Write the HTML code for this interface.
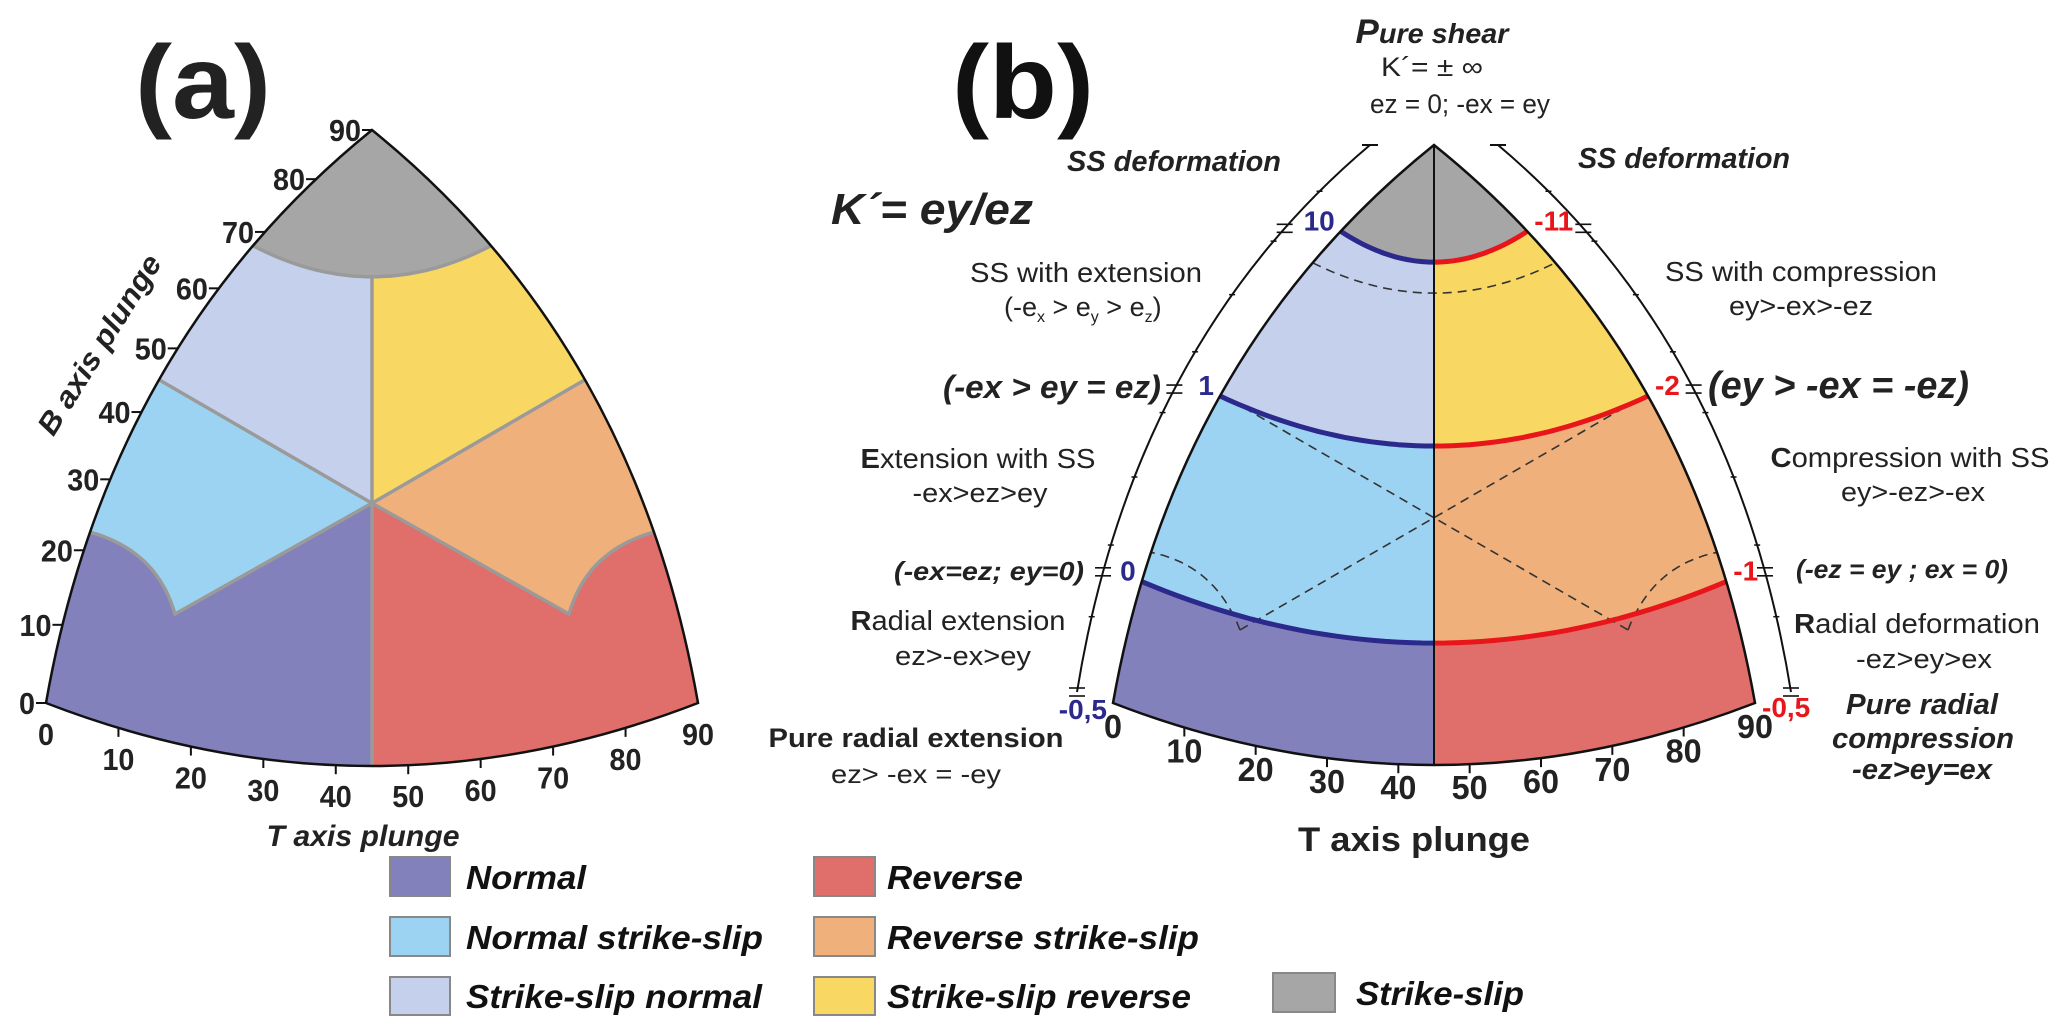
<!DOCTYPE html>
<html><head><meta charset="utf-8"><style>
html,body{margin:0;padding:0;background:#fff;}
svg{display:block;font-family:"Liberation Sans",sans-serif;}
.bi{font-weight:bold;font-style:italic;}
.b{font-weight:bold;}
</style></head><body>
<svg id="fig" width="2067" height="1034" viewBox="0 0 2067 1034" xmlns="http://www.w3.org/2000/svg">
<defs>
<clipPath id="clipA"><path id="clipApath" d=""/></clipPath>
<clipPath id="clipB"><path id="clipBpath" d=""/></clipPath>
</defs>
<g id="panelA"></g>
<g id="panelB"></g>

<!-- Panel a static text -->
<text x="135" y="118" class="b" font-size="104" textLength="136" lengthAdjust="spacingAndGlyphs" fill="#222">(a)</text>
<text class="bi" font-size="30" text-anchor="middle" transform="translate(108,350) rotate(-58)" textLength="206" lengthAdjust="spacingAndGlyphs" fill="#222">B axis plunge</text>
<text x="363" y="846" class="bi" font-size="30" text-anchor="middle" textLength="193" lengthAdjust="spacingAndGlyphs" fill="#222">T axis plunge</text>

<!-- Panel b static text -->
<text x="952" y="118" class="b" font-size="104" textLength="142" lengthAdjust="spacingAndGlyphs" fill="#111">(b)</text>
<text x="1432" y="43" class="bi" font-size="28" text-anchor="middle" textLength="153" lengthAdjust="spacingAndGlyphs" fill="#222"><tspan font-size="34">P</tspan>ure shear</text>
<text x="1432" y="76" font-size="27" text-anchor="middle" textLength="102" lengthAdjust="spacingAndGlyphs" fill="#222">K´= ± ∞</text>
<text x="1460" y="113" font-size="27" text-anchor="middle" textLength="180" lengthAdjust="spacingAndGlyphs" fill="#222">ez = 0; -ex = ey</text>
<text x="1067" y="171" class="bi" font-size="29" textLength="214" lengthAdjust="spacingAndGlyphs" fill="#222">SS deformation</text>
<text x="1578" y="168" class="bi" font-size="29" textLength="212" lengthAdjust="spacingAndGlyphs" fill="#222">SS deformation</text>
<text x="831" y="224" class="bi" font-size="44" textLength="202" lengthAdjust="spacingAndGlyphs" fill="#222">K´= ey/ez</text>
<text x="1086" y="282" font-size="28" text-anchor="middle" textLength="232" lengthAdjust="spacingAndGlyphs" fill="#222">SS with extension</text>
<text x="1004" y="316" font-size="27" fill="#222">(-e<tspan font-size="16" dy="6">x</tspan><tspan dy="-6"> &gt; e</tspan><tspan font-size="16" dy="6">y</tspan><tspan dy="-6"> &gt; e</tspan><tspan font-size="16" dy="6">z</tspan><tspan dy="-6">)</tspan></text>
<text x="1161" y="398" class="bi" font-size="32" text-anchor="end" textLength="218" lengthAdjust="spacingAndGlyphs" fill="#222">(-ex &gt; ey = ez)</text>
<text x="978" y="468" font-size="28" text-anchor="middle" textLength="235" lengthAdjust="spacingAndGlyphs" fill="#222"><tspan font-weight="bold">E</tspan>xtension with SS</text>
<text x="980" y="502" font-size="27" text-anchor="middle" textLength="135" lengthAdjust="spacingAndGlyphs" fill="#222">-ex&gt;ez&gt;ey</text>
<text x="1084" y="580" class="bi" font-size="26" text-anchor="end" textLength="190" lengthAdjust="spacingAndGlyphs" fill="#222">(-ex=ez; ey=0)</text>
<text x="958" y="630" font-size="28" text-anchor="middle" textLength="215" lengthAdjust="spacingAndGlyphs" fill="#222"><tspan font-weight="bold">R</tspan>adial extension</text>
<text x="963" y="665" font-size="27" text-anchor="middle" textLength="136" lengthAdjust="spacingAndGlyphs" fill="#222">ez&gt;-ex&gt;ey</text>
<text x="916" y="747" class="b" font-size="27" text-anchor="middle" textLength="295" lengthAdjust="spacingAndGlyphs" fill="#222">Pure radial extension</text>
<text x="916" y="783" font-size="26" text-anchor="middle" textLength="170" lengthAdjust="spacingAndGlyphs" fill="#222">ez&gt; -ex = -ey</text>
<text x="1298" y="851" class="b" font-size="34" textLength="232" lengthAdjust="spacingAndGlyphs" fill="#222">T axis plunge</text>

<text x="1801" y="281" font-size="28" text-anchor="middle" textLength="272" lengthAdjust="spacingAndGlyphs" fill="#222">SS with compression</text>
<text x="1801" y="315" font-size="27" text-anchor="middle" textLength="144" lengthAdjust="spacingAndGlyphs" fill="#222">ey&gt;-ex&gt;-ez</text>
<text x="1708" y="398" class="bi" font-size="38" textLength="261" lengthAdjust="spacingAndGlyphs" fill="#222">(ey &gt; -ex = -ez)</text>
<text x="1910" y="467" font-size="28" text-anchor="middle" textLength="279" lengthAdjust="spacingAndGlyphs" fill="#222"><tspan font-weight="bold">C</tspan>ompression with SS</text>
<text x="1913" y="501" font-size="27" text-anchor="middle" textLength="144" lengthAdjust="spacingAndGlyphs" fill="#222">ey&gt;-ez&gt;-ex</text>
<text x="1796" y="578" class="bi" font-size="26" textLength="212" lengthAdjust="spacingAndGlyphs" fill="#222">(-ez = ey ; ex = 0)</text>
<text x="1917" y="633" font-size="28" text-anchor="middle" textLength="246" lengthAdjust="spacingAndGlyphs" fill="#222"><tspan font-weight="bold">R</tspan>adial deformation</text>
<text x="1924" y="668" font-size="27" text-anchor="middle" textLength="136" lengthAdjust="spacingAndGlyphs" fill="#222">-ez&gt;ey&gt;ex</text>
<text x="1922" y="714" class="bi" font-size="29" text-anchor="middle" textLength="152" lengthAdjust="spacingAndGlyphs" fill="#222">Pure radial</text>
<text x="1923" y="748" class="bi" font-size="29" text-anchor="middle" textLength="182" lengthAdjust="spacingAndGlyphs" fill="#222">compression</text>
<text x="1922" y="779" class="bi" font-size="29" text-anchor="middle" textLength="140" lengthAdjust="spacingAndGlyphs" fill="#222">-ez&gt;ey=ex</text>

<!-- Legend -->
<g font-size="33" class="bi" fill="#111">
<g><rect x="390" y="857" width="60" height="39" fill="#8281bb" stroke="#888" stroke-width="2"/><text x="466" y="889" textLength="120" lengthAdjust="spacingAndGlyphs">Normal</text></g>
<g><rect x="390" y="917" width="60" height="39" fill="#9dd3f2" stroke="#888" stroke-width="2"/><text x="466" y="949" textLength="297" lengthAdjust="spacingAndGlyphs">Normal strike-slip</text></g>
<g><rect x="390" y="977" width="60" height="38" fill="#c5d0ec" stroke="#888" stroke-width="2"/><text x="466" y="1008" textLength="296" lengthAdjust="spacingAndGlyphs">Strike-slip normal</text></g>
<g><rect x="814" y="857" width="61" height="39" fill="#e06e6b" stroke="#888" stroke-width="2"/><text x="887" y="889" textLength="136" lengthAdjust="spacingAndGlyphs">Reverse</text></g>
<g><rect x="814" y="917" width="61" height="39" fill="#efb07b" stroke="#888" stroke-width="2"/><text x="887" y="949" textLength="312" lengthAdjust="spacingAndGlyphs">Reverse strike-slip</text></g>
<g><rect x="814" y="977" width="61" height="38" fill="#f8d862" stroke="#888" stroke-width="2"/><text x="887" y="1008" textLength="304" lengthAdjust="spacingAndGlyphs">Strike-slip reverse</text></g>
<g><rect x="1273" y="973" width="62" height="39" fill="#a6a6a6" stroke="#888" stroke-width="2"/><text x="1356" y="1005" textLength="168" lengthAdjust="spacingAndGlyphs">Strike-slip</text></g>
</g>
</svg>
<script>
// ---------- data ----------
const plungeTicks = [0,10,20,30,40,50,60,70,80,90];
const tickLabels = ["0","10","20","30","40","50","60","70","80","90"];
// panel a region boundaries (plunge degrees)
const aCapEdge = 67.5, aCapCenter = 69.2;
const aMidEdge = 45, aJunction = 37.1;
const aLowEdge = 22.5;
const aCusp = [17.8, 21.4];          // [T plunge, B plunge]
const aCuspCtrl = [15.3, 30.4];
// panel b: K' boundaries
const kLeftLabels = ["-0,5","0","1","10"];
const kRightLabels = ["-0,5","-1","-2","-11"];
const kEdgePlunge = [0, 16.2, 43.8, 72.5];
const kCenterPlunge = [17.7, 46.3, 73.0];
const bDashEdge = 66.6, bDashCenter = 68.5;
const bCusp = [17.8, 19.6];
const bCuspEnd = 20.3;
const bCuspCtrl = [14.3, 29];
const bJunction = 35.9;

const C = {purple:"#8281bb", blue:"#9dd3f2", lav:"#c5d0ec", gray:"#a6a6a6", red:"#e06e6b", orange:"#efb07b", yellow:"#f8d862", kblue:"#2b2a8c", kred:"#e8161b"};
const NS = "http://www.w3.org/2000/svg";

function mk(parent, tag, attrs, name) {
  const el = document.createElementNS(NS, tag);
  for (const k in attrs) el.setAttribute(k, attrs[k]);
  
  
  parent.appendChild(el);
  return el;
}
function q(P0, K, P2, t) {
  const u = 1 - t;
  return [u*u*P0[0] + 2*u*t*K[0] + t*t*P2[0], u*u*P0[1] + 2*u*t*K[1] + t*t*P2[1]];
}
function pts(arr) { return arr.map(p => p[0].toFixed(1) + "," + p[1].toFixed(1)).join(" "); }

function makePanel(g) {
  g.left = v => q(g.P0L, g.KL, g.apex, v/90);
  g.right = v => q(g.P0R, g.KR, g.apex, v/90);
  g.bottom = v => q(g.P0L, g.botK, g.P0R, v/90);
  g.outlineD = `M${g.P0L} Q${g.KL} ${g.apex} Q${g.KR} ${g.P0R} Q${g.botK} ${g.P0L} Z`;
  g.center = v => [g.cx, g.bottomY - (g.bottomY - g.apex[1]) * v/90];
  g.pt = (T, B) => [g.P0L[0] + (g.P0R[0]-g.P0L[0]) * T/90, g.bottomY - (g.bottomY - g.apex[1]) * B/90];
  g.half = (edgeV, centerV, side, n) => {
    const E = side < 0 ? g.left(edgeV) : g.right(edgeV);
    const M = g.center(centerV);
    const K = [(E[0] + g.cx)/2, M[1]];
    const out = [];
    for (let i = 0; i <= n; i++) out.push(q(E, K, M, i/n));
    return out;
  };
  return g;
}

// ---------- Panel A ----------
const A = makePanel({P0L:[46,703], KL:[109,343], apex:[372,130], P0R:[698,703], KR:[635,343], botK:[372,829], cx:372, bottomY:765});
const pA = document.getElementById('panelA');
document.getElementById('clipApath').setAttribute('d', A.outlineD);
const fa = mk(pA, 'g', {'clip-path':'url(#clipA)'}, 'panel-a-regions');
mk(fa, 'rect', {x:0, y:0, width:A.cx, height:900, fill:C.purple}, 'region-normal');
mk(fa, 'rect', {x:A.cx, y:0, width:400, height:900, fill:C.red}, 'region-reverse');
function cuspCurve(P, side) {
  const cusp = P.pt(side < 0 ? aCusp[0] : 90 - aCusp[0], aCusp[1]);
  const ctrl = P.pt(side < 0 ? aCuspCtrl[0] : 90 - aCuspCtrl[0], aCuspCtrl[1]);
  const E = side < 0 ? P.left(aLowEdge) : P.right(aLowEdge);
  const out = []; for (let i = 0; i <= 20; i++) out.push(q(cusp, ctrl, E, i/20));
  return out;
}
[-1, 1].forEach(s => {
  const E45 = s < 0 ? A.left(aMidEdge) : A.right(aMidEdge);
  const E22 = s < 0 ? A.left(aLowEdge) : A.right(aLowEdge);
  const J = A.center(aJunction);
  const far = s < 0 ? 0 : 760;
  const cc = cuspCurve(A, s);
  mk(fa, 'polygon', {points: pts([E45, J].concat(cc, [[far, E22[1]], [far, E45[1]]])), fill:C[s<0?'blue':'orange']}, s<0?'region-normal-strike-slip':'region-reverse-strike-slip');
  mk(fa, 'polygon', {points: pts([[far,0],[A.cx,0],J,E45,[far,E45[1]]]), fill:C[s<0?'lav':'yellow']}, s<0?'region-strike-slip-normal':'region-strike-slip-reverse');
});
const capL = A.half(aCapEdge, aCapCenter, -1, 20);   // left edge -> center
const capRe = A.half(aCapEdge, aCapCenter, 1, 20);   // right edge -> center
const capPoly = [[0,0],[760,0],[760,capRe[0][1]]].concat(capRe, capL.slice().reverse(), [[0,capL[0][1]]]);
mk(fa, 'polygon', {points: pts(capPoly), fill:C.gray}, 'region-strike-slip');
// boundaries
const bl = mk(pA, 'g', {'clip-path':'url(#clipA)', stroke:'#9a9a9a', 'stroke-width':3.5, fill:'none'}, 'panel-a-boundaries');
mk(bl, 'polyline', {points: pts(capL.concat(capRe.slice().reverse()))}, 'cap-boundary');
mk(bl, 'line', {x1:A.cx, y1:A.center(aCapCenter)[1], x2:A.cx, y2:A.bottomY+5}, 'center-boundary');
[-1, 1].forEach(s => {
  const J = A.center(aJunction);
  const E45 = s < 0 ? A.left(aMidEdge) : A.right(aMidEdge);
  const cc = cuspCurve(A, s);
  mk(bl, 'line', {x1:J[0], y1:J[1], x2:E45[0], y2:E45[1]}, 'upper-diagonal-boundary');
  mk(bl, 'polyline', {points: pts([J].concat(cc))}, 'cusp-boundary');
});
mk(pA, 'path', {d:A.outlineD, fill:'none', stroke:'#111', 'stroke-width':2.5}, 'panel-a-outline');
// axis ticks
plungeTicks.forEach((v, i) => {
  const e = A.left(v);
  mk(pA, 'line', {x1:e[0]-10, y1:e[1], x2:e[0], y2:e[1], stroke:'#111', 'stroke-width':2}, 'b-axis-tick');
  const t = mk(pA, 'text', {x:e[0]-11, y:e[1]+11, 'font-size':31, 'font-weight':'bold', 'text-anchor':'end', fill:'#222', textLength: tickLabels[i].length*16, lengthAdjust:'spacingAndGlyphs'}, 'b-axis-tick-label');
  t.textContent = tickLabels[i];
  const b = A.bottom(v);
  if (i > 0 && i < 9) mk(pA, 'line', {x1:b[0], y1:b[1], x2:b[0], y2:b[1]+9, stroke:'#111', 'stroke-width':2}, 't-axis-tick');
  const tb = mk(pA, 'text', {x:b[0], y:b[1]+42, 'font-size':31, 'font-weight':'bold', 'text-anchor':'middle', fill:'#222', textLength: tickLabels[i].length*16, lengthAdjust:'spacingAndGlyphs'}, 't-axis-tick-label');
  tb.textContent = tickLabels[i];
});

// ---------- Panel B ----------
const B = makePanel({P0L:[1113,703], KL:[1175,353], apex:[1434,145], P0R:[1755,703], KR:[1693,353], botK:[1434,827], cx:1434, bottomY:765});
const pB = document.getElementById('panelB');
document.getElementById('clipBpath').setAttribute('d', B.outlineD);
const fb = mk(pB, 'g', {'clip-path':'url(#clipB)'}, 'panel-b-regions');
mk(fb, 'rect', {x:1000, y:0, width:B.cx-1000, height:900, fill:C.purple}, 'region-radial-extension');
mk(fb, 'rect', {x:B.cx, y:0, width:500, height:900, fill:C.red}, 'region-radial-deformation');
const leftFills = ['blue','lav','gray'], rightFills = ['orange','yellow','gray'];
kCenterPlunge.forEach((cv, i) => {
  [-1, 1].forEach(s => {
    const h = B.half(kEdgePlunge[i+1], cv, s, 24);
    const far = s < 0 ? 1000 : 1900;
    mk(fb, 'polygon', {points: pts([[far,0],[B.cx,0]].concat(h.slice().reverse(), [[far, h[0][1]]])), fill:C[s<0?leftFills[i]:rightFills[i]]}, 'k-region-' + i);
  });
});
// dashed lines
const dg = mk(pB, 'g', {'clip-path':'url(#clipB)', stroke:'#333', 'stroke-width':1.6, fill:'none', 'stroke-dasharray':'9 6'}, 'panel-b-dashed-guides');
mk(dg, 'polyline', {points: pts(B.half(bDashEdge, bDashCenter, -1, 20).concat(B.half(bDashEdge, bDashCenter, 1, 20).reverse()))}, 'dashed-upper-arc');
const J = B.center(bJunction);
[-1, 1].forEach(s => {
  const cusp = B.pt(s < 0 ? bCusp[0] : 90 - bCusp[0], bCusp[1]);
  const ctrl = B.pt(s < 0 ? bCuspCtrl[0] : 90 - bCuspCtrl[0], bCuspCtrl[1]);
  const E = s < 0 ? B.left(bCuspEnd) : B.right(bCuspEnd);
  const far = [J[0] + (J[0]-cusp[0])*1.6, J[1] + (J[1]-cusp[1])*1.6];
  mk(dg, 'line', {x1:cusp[0], y1:cusp[1], x2:far[0], y2:far[1]}, 'dashed-diagonal');
  const cc = []; for (let i = 0; i <= 20; i++) cc.push(q(cusp, ctrl, E, i/20));
  mk(dg, 'polyline', {points: pts(cc)}, 'dashed-cusp-arc');
});
// K' boundary lines
kCenterPlunge.forEach((cv, i) => {
  mk(pB, 'polyline', {points: pts(B.half(kEdgePlunge[i+1], cv, -1, 24)), fill:'none', stroke:C.kblue, 'stroke-width':5}, 'k-boundary-blue');
  mk(pB, 'polyline', {points: pts(B.half(kEdgePlunge[i+1], cv, 1, 24)), fill:'none', stroke:C.kred, 'stroke-width':5}, 'k-boundary-red');
});
mk(pB, 'line', {x1:B.cx, y1:B.apex[1], x2:B.cx, y2:B.bottomY, stroke:'#111', 'stroke-width':2}, 'panel-b-center-line');
mk(pB, 'path', {d:B.outlineD, fill:'none', stroke:'#111', 'stroke-width':2.5}, 'panel-b-outline');
// outer arcs
const OL = {P0:[1077,692], K:[1133,345], P2:[1370,145]};
const OR = {P0:[1791,692], K:[1735,345], P2:[1498,145]};
[OL, OR].forEach((o, si) => {
  mk(pB, 'path', {d:`M${o.P0} Q${o.K} ${o.P2}`, fill:'none', stroke:'#111', 'stroke-width':2}, si ? 'outer-arc-right' : 'outer-arc-left');
  const top = o.P2;
  mk(pB, 'line', {x1:top[0]-8, y1:top[1], x2:top[0]+8, y2:top[1], stroke:'#111', 'stroke-width':2}, 'outer-arc-top-tick');
  for (let m = 1; m < 9; m++) {
    const p = q(o.P0, o.K, o.P2, m/9);
    mk(pB, 'line', {x1:p[0]-3, y1:p[1], x2:p[0]+3, y2:p[1], stroke:'#111', 'stroke-width':1.5}, 'outer-arc-minor-tick');
  }
  kEdgePlunge.forEach((v, i) => {
    const p = q(o.P0, o.K, o.P2, v/90);
    mk(pB, 'line', {x1:p[0]-8, y1:p[1]-4, x2:p[0]+8, y2:p[1]-4, stroke:'#111', 'stroke-width':1.6}, 'outer-arc-k-tick');
    mk(pB, 'line', {x1:p[0]-8, y1:p[1]+4, x2:p[0]+8, y2:p[1]+4, stroke:'#111', 'stroke-width':1.6}, 'outer-arc-k-tick');
  });
});
// K' labels
kEdgePlunge.forEach((v, i) => {
  const e = B.left(v);
  const tl = mk(pB, 'text', {x:e[0]-6, y:e[1]+(i===0?16:-1), 'font-size':28, 'font-weight':'bold', 'text-anchor':'end', fill:C.kblue}, 'k-label-left');
  tl.textContent = kLeftLabels[i];
  const r = B.right(v);
  const tr = mk(pB, 'text', {x:r[0]+7, y:r[1]+(i===0?14:-1), 'font-size':28, 'font-weight':'bold', 'text-anchor':'start', fill:C.kred}, 'k-label-right');
  tr.textContent = kRightLabels[i];
});
// T axis ticks b
plungeTicks.forEach((v, i) => {
  const b = B.bottom(v);
  if (i > 0 && i < 9) mk(pB, 'line', {x1:b[0], y1:b[1], x2:b[0], y2:b[1]+9, stroke:'#111', 'stroke-width':2}, 't-axis-tick-b');
  const tb = mk(pB, 'text', {x:b[0], y:b[1]+35, 'font-size':33, 'font-weight':'bold', 'text-anchor':'middle', fill:'#222', textLength: tickLabels[i].length*18, lengthAdjust:'spacingAndGlyphs'}, 't-axis-tick-label-b');
  tb.textContent = tickLabels[i];
});
</script>
</body></html>
